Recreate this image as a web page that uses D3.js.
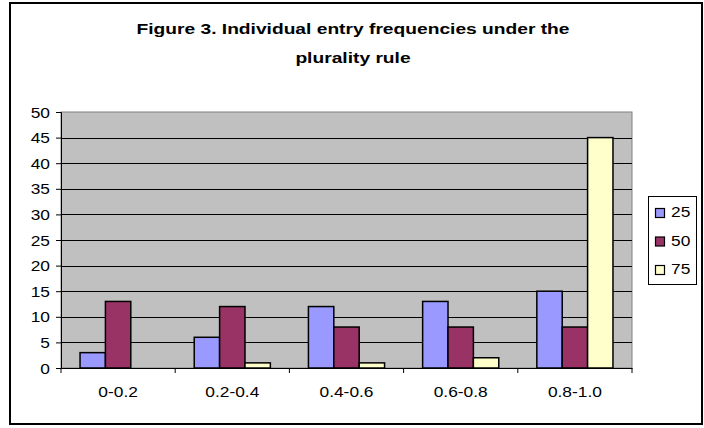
<!DOCTYPE html>
<html>
<head>
<meta charset="utf-8">
<script src="https://cdn.jsdelivr.net/npm/d3@7"></script>
<style>
  html, body { margin: 0; padding: 0; background: #fff; }
  svg { display: block; font-family: "Liberation Sans", Arial, sans-serif; }
</style>
</head>
<body>
<svg id="chart" width="704" height="428"></svg>
<script>
// Entry-frequency bins and group sizes
const categories = ["0-0.2", "0.2-0.4", "0.4-0.6", "0.6-0.8", "0.8-1.0"];
const seriesNames = ["25", "50", "75"];
const values25 = [3, 6, 12, 13, 15];
const values50 = [13, 12, 8, 8, 8];
const values75 = [0, 1, 1, 2, 45];
const yTicks = [0, 5, 10, 15, 20, 25, 30, 35, 40, 45, 50];
const titleLines = ["Figure 3. Individual entry frequencies under the", "plurality rule"];

const seriesValues = [values25, values50, values75];
const colors = ["#9999FF", "#993366", "#FFFFCC"];

// all text is set slightly wide
const SX = 1.24;

const svg = d3.select("#chart");

// places a horizontally widened text at (x, y)
function wideText(parent, x, y, str, anchor, size, bold) {
  const g = parent.append("g").attr("transform", `translate(${x},${y}) scale(${SX},1)`);
  return g.append("text")
    .attr("text-anchor", anchor)
    .attr("font-size", size)
    .attr("font-weight", bold ? "bold" : "normal")
    .attr("fill", "#000")
    .text(str);
}

// outer chart border
svg.append("rect")
  .attr("x", 10).attr("y", 3).attr("width", 692).attr("height", 421)
  .attr("fill", "#fff").attr("stroke", "#000").attr("stroke-width", 2);

// title
titleLines.forEach((t, i) => {
  wideText(svg, 353, 34 + i * 29, t, "middle", 15.5, true);
});

const plot = { left: 61, right: 632, top: 112, bottom: 368 };

const x0 = d3.scaleBand().domain(categories).range([plot.left, plot.right]).padding(0);
const barW = x0.bandwidth() / 4.5;
const x1 = d3.scaleBand().domain(seriesNames).range([0, barW * 3]);
const y = d3.scaleLinear().domain([0, 50]).range([plot.bottom, plot.top]);

// plot background
svg.append("rect")
  .attr("x", plot.left).attr("y", plot.top)
  .attr("width", plot.right - plot.left).attr("height", plot.bottom - plot.top)
  .attr("fill", "#C0C0C0").attr("stroke", "#808080").attr("stroke-width", 1);

// horizontal gridlines
svg.append("g").selectAll("line")
  .data(yTicks.filter(v => v > 0 && v < 50))
  .join("line")
  .attr("x1", plot.left).attr("x2", plot.right)
  .attr("y1", d => Math.round(y(d)) + 0.5).attr("y2", d => Math.round(y(d)) + 0.5)
  .attr("stroke", "#000").attr("stroke-width", 1);

// bars
const groups = svg.append("g").selectAll("g")
  .data(categories)
  .join("g")
  .attr("transform", c => `translate(${x0(c) + (x0.bandwidth() - barW * 3) / 2},0)`);

groups.selectAll("rect")
  .data((c, ci) => seriesNames.map((s, si) => ({ s, si, v: seriesValues[si][ci] })))
  .join("rect")
  .filter(d => d.v > 0)
  .attr("x", d => x1(d.s))
  .attr("y", d => y(d.v))
  .attr("width", barW)
  .attr("height", d => y(0) - y(d.v))
  .attr("fill", d => colors[d.si])
  .attr("stroke", "#000").attr("stroke-width", 1.5);

// y axis
const yAxis = svg.append("g")
  .attr("transform", `translate(${plot.left},0)`)
  .call(d3.axisLeft(y).tickValues(yTicks).tickSize(5).tickPadding(4));
yAxis.select(".domain").attr("stroke", "#000");
yAxis.selectAll(".tick line").attr("stroke", "#000");
yAxis.selectAll(".tick text").remove();
yAxis.selectAll(".tick").each(function (d) {
  wideText(d3.select(this), -11, 5, String(d), "end", 14, false);
});

// x axis
const xAxis = svg.append("g")
  .attr("transform", `translate(0,${plot.bottom})`)
  .call(d3.axisBottom(x0).tickSize(0));
xAxis.select(".domain").attr("stroke", "#000");
xAxis.selectAll(".tick text").remove();
xAxis.selectAll(".tick").each(function (d) {
  wideText(d3.select(this), 0, 29, d, "middle", 14, false);
});
// category separator ticks
svg.append("g").selectAll("line")
  .data(d3.range(categories.length + 1))
  .join("line")
  .attr("x1", i => plot.left + i * x0.bandwidth())
  .attr("x2", i => plot.left + i * x0.bandwidth())
  .attr("y1", plot.bottom).attr("y2", plot.bottom + 5)
  .attr("stroke", "#000");

// legend
const legend = svg.append("g");
legend.append("rect")
  .attr("x", 648.5).attr("y", 196.5).attr("width", 48).attr("height", 88)
  .attr("fill", "#fff").attr("stroke", "#000").attr("stroke-width", 1);
seriesNames.forEach((s, i) => {
  const base = 217 + i * 28.5;
  legend.append("rect")
    .attr("x", 655.5).attr("y", base - 8.5).attr("width", 9).attr("height", 9)
    .attr("fill", colors[i]).attr("stroke", "#000").attr("stroke-width", 1.2);
  wideText(legend, 671, base, s, "start", 14, false);
});
</script>
</body>
</html>
